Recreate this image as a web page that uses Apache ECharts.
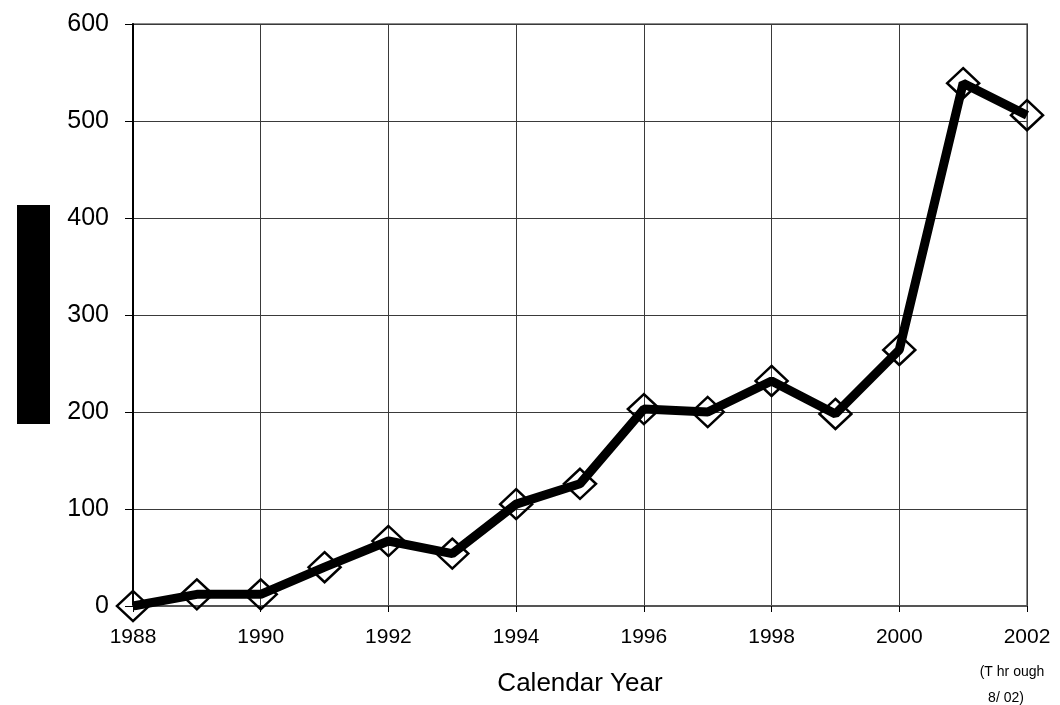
<!DOCTYPE html>
<html>
<head>
<meta charset="utf-8">
<script src="https://cdn.jsdelivr.net/npm/echarts@6/dist/echarts.min.js"></script>
<style>
  html, body { margin: 0; padding: 0; background: #fff; }
  #chart { width: 1060px; height: 705px; }
</style>
</head>
<body>
<div id="chart"></div>
<script>
  // values
  const years = [1988, 1989, 1990, 1991, 1992, 1993, 1994, 1995, 1996, 1997, 1998, 1999, 2000, 2001, 2002];
  const counts = [0, 12, 12, 40, 67, 54, 105, 126, 203, 200, 232, 198, 264, 539, 506];
  const yTicks = [0, 100, 200, 300, 400, 500, 600];
  const xTicks = [1988, 1990, 1992, 1994, 1996, 1998, 2000, 2002];

  const chart = echarts.init(document.getElementById('chart'));
  const font = '"Liberation Sans", Arial, sans-serif';

  const option = {
    animation: false,
    grid: {
      left: 133,
      right: 33,
      top: 24,
      bottom: 99,
      show: true,
      borderColor: '#8c8c8c',
      borderWidth: 2,
    },
    xAxis: {
      type: 'value',
      min: xTicks[0],
      max: xTicks[xTicks.length - 1],
      interval: 2,
      name: 'Calendar Year',
      nameLocation: 'middle',
      nameGap: 65,
      nameTextStyle: { fontFamily: font, fontSize: 26, color: '#000' },
      axisLine: { show: true, lineStyle: { color: '#555', width: 2 } },
      axisTick: { show: true, length: 6, lineStyle: { color: '#000' } },
      splitLine: { show: true, lineStyle: { color: '#3a3a3a', width: 1 } },
      axisLabel: {
        fontFamily: font,
        fontSize: 21,
        color: '#000',
        margin: 21,
        formatter: (v) => String(v),
      },
    },
    yAxis: {
      type: 'value',
      min: yTicks[0],
      max: yTicks[yTicks.length - 1],
      interval: 100,
      axisLine: { show: true, lineStyle: { color: '#000', width: 2 } },
      axisTick: { show: true, length: 8, lineStyle: { color: '#000' } },
      splitLine: { show: true, lineStyle: { color: '#3a3a3a', width: 1 } },
      axisLabel: {
        fontFamily: font,
        fontSize: 25,
        color: '#000',
        margin: 24,
      },
    },
    series: [
      {
        type: 'line',
        data: years.map((y, i) => [y, counts[i]]),
        symbol: 'diamond',
        symbolSize: [32, 30],
        lineStyle: { color: '#000', width: 9 },
        itemStyle: { color: 'rgba(0,0,0,0)', borderColor: '#000', borderWidth: 2.5 },
        z: 3,
      },
    ],
    graphic: [
      {
        type: 'rect',
        shape: { x: 17, y: 205, width: 33, height: 219 },
        style: { fill: '#000' },
      },
      {
        type: 'text',
        x: 1012,
        y: 672,
        style: {
          text: '(T hr ough',
          fontFamily: font,
          fontSize: 14,
          fill: '#000',
          align: 'center',
          verticalAlign: 'middle',
        },
      },
      {
        type: 'text',
        x: 1006,
        y: 698,
        style: {
          text: '8/ 02)',
          fontFamily: font,
          fontSize: 14,
          fill: '#000',
          align: 'center',
          verticalAlign: 'middle',
        },
      },
    ],
  };

  chart.setOption(option);
</script>
</body>
</html>
